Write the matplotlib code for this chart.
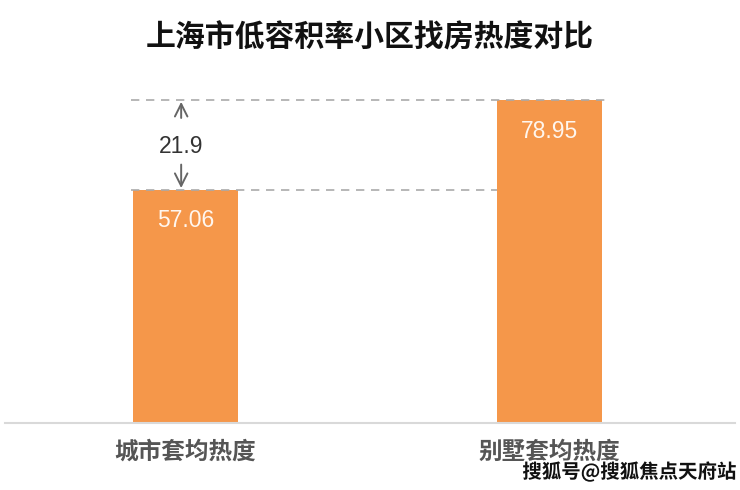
import matplotlib.pyplot as plt
import matplotlib.patheffects as pe

plt.rcParams['font.family'] = ['Noto Sans CJK SC', 'DejaVu Sans']

categories = ['城市套均热度', '别墅套均热度']
values = [57.06, 78.95]
diff_label = '21.9'
title = '上海市低容积率小区找房热度对比'
watermark = '搜狐号@搜狐焦点天府站'

bar_color = '#F5974A'
xs = [0, 1]
width = 0.288

fig = plt.figure(figsize=(7.4, 4.9), dpi=100)
ax = fig.add_axes([5 / 740, 67 / 490, 730 / 740, 368 / 490])
ax.bar(xs, values, width=width, color=bar_color, zorder=2)
ax.set_xlim(-0.496, 1.5096)
ax.set_ylim(0, 90)

# dashed reference lines at bar tops
ax.hlines(values[1], xs[0] - width / 2 - 0.005, xs[1] + width / 2 + 0.008,
          colors='#aaaaaa', linestyles=(0, (5, 4)), linewidth=1.2, zorder=3)
ax.hlines(values[0], xs[0] - width / 2 - 0.005, xs[1] - width / 2,
          colors='#aaaaaa', linestyles=(0, (5, 4)), linewidth=1.2, zorder=3)

# difference arrows
ax_x = xs[0] - 0.012
arrow = dict(arrowstyle='->,head_length=0.5,head_width=0.25', color='#666666',
             lw=1.4, mutation_scale=18, shrinkA=0, shrinkB=0)
ax.annotate('', xy=(ax_x, values[1] - 0.4), xytext=(ax_x, 74.6), arrowprops=arrow)
ax.annotate('', xy=(ax_x, values[0] + 0.4), xytext=(ax_x, 63.2), arrowprops=arrow)
ax.text(ax_x, 67.6, diff_label, ha='center', va='center', fontsize=16.5,
        color='#333333', family=['Liberation Sans', 'DejaVu Sans'])

# value labels inside bars
for x, v in zip(xs, values):
    ax.text(x, v - 7.6, f'{v:.2f}', ha='center', va='center', fontsize=16.5,
            color='#fff6ee', family=['Liberation Sans', 'DejaVu Sans'])

for s in ['top', 'right', 'left']:
    ax.spines[s].set_visible(False)
ax.spines['bottom'].set_color('#d9d9d9')
ax.spines['bottom'].set_linewidth(1.5)
ax.set_yticks([])
ax.set_xticks(xs)
ax.set_xticklabels(categories, fontsize=17, color='#555555', fontweight='bold')
ax.tick_params(axis='x', length=0, pad=12)

fig.text(0.5, 1 - 38 / 490, title, ha='center', va='center', fontsize=21.5,
         fontweight='bold', color='#111111')

fig.text(737 / 740, 1 - 472 / 490, watermark, ha='right', va='center',
         fontsize=14, fontweight='bold', color='#111111',
         path_effects=[pe.withStroke(linewidth=2.5, foreground='white')])

fig.savefig('out.png', dpi=100)
